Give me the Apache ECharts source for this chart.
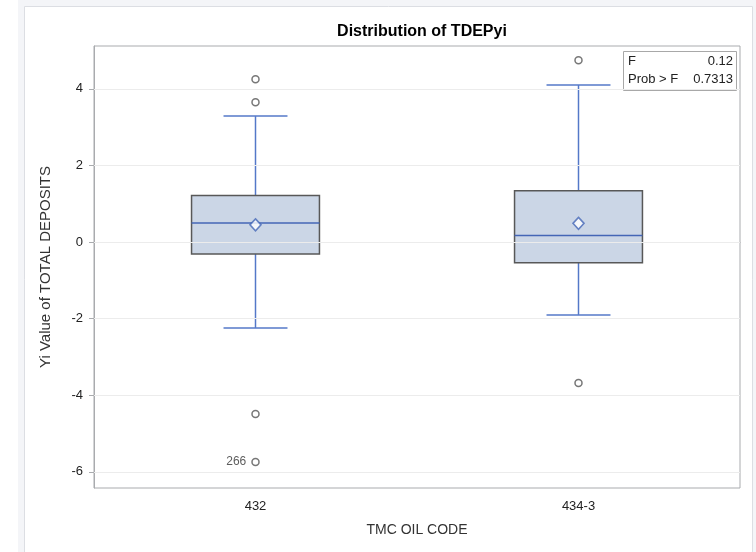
<!DOCTYPE html>
<html>
<head>
<meta charset="utf-8">
<script src="https://cdn.jsdelivr.net/npm/echarts@6/dist/echarts.min.js"></script>
<style>html,body{margin:0;padding:0;background:#fff;}#chart{width:756px;height:552px;}</style>
</head>
<body>
<div id="chart"></div>
<script>
var categories = ['432', '434-3'];
var whiskerLow = [-2.24, -1.90];
var q1 = [-0.31, -0.54];
var median = [0.50, 0.17];
var q3 = [1.22, 1.34];
var whiskerHigh = [3.29, 4.10];
var means = [0.45, 0.49];
var outliers = [
  [0, 4.25, ''], [0, 3.65, ''], [0, -4.49, ''], [0, -5.74, '266'],
  [1, 4.75, ''], [1, -3.68, '']
];
var yTicks = [-6, -4, -2, 0, 2, 4];
var yMin = -6.42, yMax = 5.12;
var statF = '0.12', statP = '0.7313';

var boxData = categories.map(function (c, i) {
  return [i, whiskerLow[i], q1[i], median[i], q3[i], whiskerHigh[i]];
});

var FONT = '"Liberation Sans", Arial, sans-serif';
var chart = echarts.init(document.getElementById('chart'), null, {renderer: 'canvas'});

function renderBox(params, api) {
  var ci = api.value(0);
  var band = api.size([1, 0])[0];
  var half = band * 0.198;
  var capHalf = half / 2;
  var pLow = api.coord([ci, api.value(1)]);
  var pQ1 = api.coord([ci, api.value(2)]);
  var pMed = api.coord([ci, api.value(3)]);
  var pQ3 = api.coord([ci, api.value(4)]);
  var pHigh = api.coord([ci, api.value(5)]);
  var x = pMed[0];
  var wColor = '#5478C8';
  return {
    type: 'group',
    children: [
      {type: 'line', shape: {x1: x, y1: pHigh[1], x2: x, y2: pQ3[1]}, style: {stroke: wColor, lineWidth: 1.5}},
      {type: 'line', shape: {x1: x, y1: pQ1[1], x2: x, y2: pLow[1]}, style: {stroke: wColor, lineWidth: 1.5}},
      {type: 'line', shape: {x1: x - capHalf, y1: pHigh[1], x2: x + capHalf, y2: pHigh[1]}, style: {stroke: wColor, lineWidth: 1.5}},
      {type: 'line', shape: {x1: x - capHalf, y1: pLow[1], x2: x + capHalf, y2: pLow[1]}, style: {stroke: wColor, lineWidth: 1.5}},
      {type: 'rect', shape: {x: x - half, y: pQ3[1], width: half * 2, height: pQ1[1] - pQ3[1]},
        style: {fill: '#CBD6E6', stroke: '#585858', lineWidth: 1.5}},
      {type: 'line', shape: {x1: x - half, y1: pMed[1], x2: x + half, y2: pMed[1]}, style: {stroke: '#4466B6', lineWidth: 1.5}}
    ]
  };
}

var option = {
  backgroundColor: '#ffffff',
  animation: false,
  textStyle: {fontFamily: FONT},
  title: {
    text: 'Distribution of TDEPyi',
    left: 417, top: 19, textAlign: 'center',
    textStyle: {fontFamily: FONT, fontSize: 16, fontWeight: 'bold', color: '#000'}
  },
  graphic: [
    {type: 'rect', z: -10, silent: true, shape: {x: 18, y: 0, width: 738, height: 552}, style: {fill: '#f4f5f8'}},
    {type: 'rect', z: -9, silent: true, shape: {x: 24.5, y: 6.5, width: 728, height: 560}, style: {fill: '#ffffff', stroke: '#dcdee3', lineWidth: 1}},
    {type: 'group', z: 100, children: [
      {type: 'rect', shape: {x: 623.5, y: 51.5, width: 113, height: 39}, style: {fill: '#fff', stroke: '#a8a8a8', lineWidth: 1}},
      {type: 'text', x: 628, y: 61, style: {text: 'F', font: '13px ' + FONT, fill: '#222', textVerticalAlign: 'middle', textAlign: 'left'}},
      {type: 'text', x: 733, y: 61, style: {text: statF, font: '13px ' + FONT, fill: '#222', textVerticalAlign: 'middle', textAlign: 'right'}},
      {type: 'text', x: 628, y: 79, style: {text: 'Prob > F', font: '13px ' + FONT, fill: '#222', textVerticalAlign: 'middle', textAlign: 'left'}},
      {type: 'text', x: 733, y: 79, style: {text: statP, font: '13px ' + FONT, fill: '#222', textVerticalAlign: 'middle', textAlign: 'right'}}
    ]}
  ],
  grid: {
    left: 94, right: 16, top: 46, bottom: 64,
    show: true, borderColor: '#a9abae', borderWidth: 1, backgroundColor: '#fff'
  },
  xAxis: {
    type: 'category',
    data: categories,
    boundaryGap: true,
    name: 'TMC OIL CODE',
    nameLocation: 'middle',
    nameGap: 35,
    nameTextStyle: {fontFamily: FONT, fontSize: 14, color: '#333'},
    axisLine: {show: true, lineStyle: {color: '#a9abae'}},
    axisTick: {show: true, alignWithLabel: true, length: 5, lineStyle: {color: '#a9abae'}},
    axisLabel: {fontFamily: FONT, fontSize: 13, color: '#222', margin: 12},
    splitLine: {show: false}
  },
  yAxis: {
    type: 'value',
    min: yMin, max: yMax,
    name: 'Yi Value of TOTAL DEPOSITS',
    nameLocation: 'middle',
    nameGap: 41,
    nameTextStyle: {fontFamily: FONT, fontSize: 15, color: '#333'},
    axisLine: {show: true, lineStyle: {color: '#a9abae'}},
    axisTick: {show: true, length: 5, lineStyle: {color: '#a9abae'}, customValues: yTicks},
    axisLabel: {fontFamily: FONT, fontSize: 13, color: '#222', margin: 11, customValues: yTicks},
    splitLine: {show: false}
  },
  series: [
    {
      type: 'custom',
      name: 'grid',
      silent: true,
      data: [],
      renderItem: function () { return null; },
      markLine: {
        silent: true, symbol: 'none', label: {show: false},
        lineStyle: {color: '#ececec', width: 1, type: 'solid'},
        data: yTicks.map(function (v) { return {yAxis: v}; })
      },
      z: 1
    },
    {
      type: 'custom',
      name: 'box',
      renderItem: renderBox,
      encode: {x: 0, y: [1, 2, 3, 4, 5]},
      data: boxData,
      z: 3
    },
    {
      type: 'scatter',
      name: 'mean',
      data: means.map(function (m, i) { return [i, m]; }),
      symbol: 'diamond',
      symbolSize: [11, 12],
      itemStyle: {color: '#fff', borderColor: '#4466B6', borderWidth: 1.6},
      z: 5
    },
    {
      type: 'scatter',
      name: 'outliers',
      data: outliers.map(function (o) {
        var item = {value: [o[0], o[1]]};
        if (o[2]) {
          item.label = {show: true, position: 'left', distance: 5, formatter: o[2],
            fontFamily: FONT, fontSize: 12, color: '#333'};
        }
        return item;
      }),
      symbol: 'circle',
      symbolSize: 7,
      itemStyle: {color: '#fff', borderColor: '#555', borderWidth: 1.5},
      z: 5
    }
  ]
};
chart.setOption(option);
</script>
</body>
</html>
